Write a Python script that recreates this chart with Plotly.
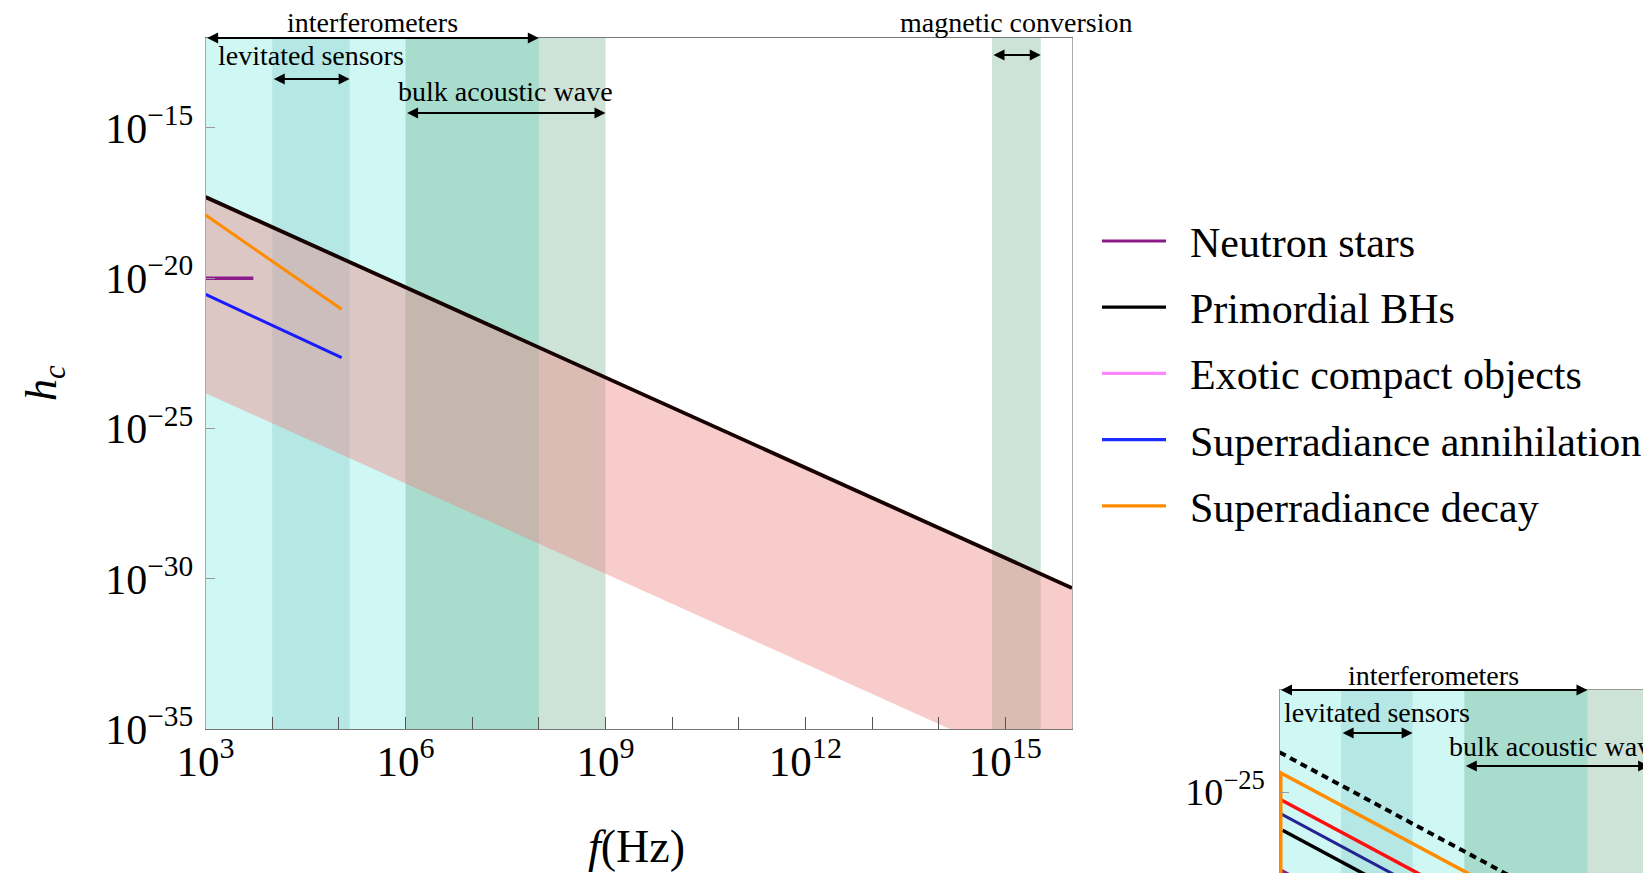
import numpy as np
import plotly.graph_objects as go

# ---------------------------------------------------------------------------
# Detector frequency bands (Hz)
band_names = ["interferometers", "levitated sensors", "bulk acoustic wave", "magnetic conversion"]
band_lo = [1e3, 1e4, 1e6, 6.3e14]
band_hi = [1e8, 1.45e5, 1e9, 3.4e15]
band_fill = ["rgba(64,224,208,0.25)", "rgba(0,128,128,0.125)",
             "rgba(46,139,87,0.24)", "rgba(46,139,87,0.24)"]

# Sources: characteristic strain h_c versus frequency f (Hz)
pbh_f = [1e3, 1e16]
pbh_h_max = [5e-18, 5e-31]
pbh_h_min = [1.5e-24, 1.5e-37]
ns_f = [1e3, 5.2e3]
ns_h = [1e-20, 1e-20]
sr_ann_f = [1e3, 1.1e5]
sr_ann_h = [2.9e-21, 2.3e-23]
sr_dec_f = [1e3, 1.1e5]
sr_dec_h = [1.26e-18, 9.3e-22]

# Lower-right panel curves
p2_dashed_f = [1e3, 1e9]
p2_dashed_h = [1.6e-24, 1.6e-30]
p2_orange_f = [1.05e3, 1.05e3, 1e9]
p2_orange_h = [1e-28, 3.8e-25, 4.0e-31]
p2_red_f = [1.07e3, 1e9]
p2_red_h = [5.75e-26, 6.2e-32]
p2_navy_f = [1e3, 1e9]
p2_navy_h = [2.3e-26, 2.3e-32]
p2_black_f = [1.12e3, 1e9]
p2_black_h = [7.0e-27, 7.8e-33]
p2_purple_f = [1e3, 1e9]
p2_purple_h = [4.5e-28, 4.5e-34]

# Axis ticks
x_tick_exp = list(range(3, 17))
x_tick_text = [f"10<sup>{e}</sup>" if e % 3 == 0 and e < 16 else "" for e in x_tick_exp]
y_tick_exp = [-35, -30, -25, -20, -15]
y_tick_text = [f"10<sup>\u2212{-e}</sup>" for e in y_tick_exp]
p2_y_tick_exp = [-25]
p2_y_tick_text = ["10<sup>\u221225</sup>"]

# Legend entries
legend_names = ["Neutron stars", "Primordial BHs", "Exotic compact objects",
                "Superradiance annihilation", "Superradiance decay"]
legend_colors = ["#8b1a8b", "#000000", "#ff88ff", "#1a2cff", "#ff8c00"]

# ---------------------------------------------------------------------------
W, H = 1643, 873
FONT = "Liberation Serif"


def px(x):
    return x / W


def py(y):
    return 1 - y / H


fig = go.Figure()


def add_band(lo, hi, color, xa="x", ya="y"):
    fig.add_trace(go.Scatter(
        x=[lo, hi, hi, lo, lo], y=[1e-60, 1e-60, 1e-2, 1e-2, 1e-60],
        mode="lines", fill="toself", fillcolor=color, line=dict(width=0),
        hoverinfo="skip", xaxis=xa, yaxis=ya))


# Main panel: detector bands
for lo, hi, c in zip(band_lo, band_hi, band_fill):
    add_band(lo, hi, c)

# Primordial black hole band
fig.add_trace(go.Scatter(x=pbh_f, y=pbh_h_min, mode="lines", line=dict(width=0),
                         hoverinfo="skip"))
fig.add_trace(go.Scatter(x=pbh_f, y=pbh_h_max, mode="lines", fill="tonexty",
                         fillcolor="rgba(240,128,128,0.4)",
                         line=dict(color="#170202", width=3.8), name="Primordial BHs"))

fig.add_trace(go.Scatter(x=sr_dec_f, y=sr_dec_h, mode="lines",
                         line=dict(color="#ff8c00", width=3), name="Superradiance decay"))
fig.add_trace(go.Scatter(x=sr_ann_f, y=sr_ann_h, mode="lines",
                         line=dict(color="#1a1aff", width=3), name="Superradiance annihilation"))
fig.add_trace(go.Scatter(x=ns_f, y=ns_h, mode="lines",
                         line=dict(color="#8b1a8b", width=3.5), name="Neutron stars"))

# Lower-right panel
for lo, hi, c in zip(band_lo[:3], band_hi[:3], band_fill[:3]):
    add_band(lo, hi, c, "x2", "y2")

fig.add_trace(go.Scatter(x=p2_purple_f, y=p2_purple_h, mode="lines",
                         line=dict(color="#8b1a8b", width=3.5), xaxis="x2", yaxis="y2"))
fig.add_trace(go.Scatter(x=p2_black_f, y=p2_black_h, mode="lines",
                         line=dict(color="black", width=3.5), xaxis="x2", yaxis="y2"))
fig.add_trace(go.Scatter(x=p2_navy_f, y=p2_navy_h, mode="lines",
                         line=dict(color="#232394", width=3), xaxis="x2", yaxis="y2"))
fig.add_trace(go.Scatter(x=p2_red_f, y=p2_red_h, mode="lines",
                         line=dict(color="#ff1010", width=3.5), xaxis="x2", yaxis="y2"))
fig.add_trace(go.Scatter(x=p2_orange_f, y=p2_orange_h, mode="lines",
                         line=dict(color="#ff8c00", width=3.5), xaxis="x2", yaxis="y2"))
fig.add_trace(go.Scatter(x=p2_dashed_f, y=p2_dashed_h, mode="lines",
                         line=dict(color="black", width=4, dash="7px,5px"),
                         xaxis="x2", yaxis="y2"))

# ---------------------------------------------------------------------------
annotations = []


def band_arrow(lo, hi, ypix, xref="x"):
    annotations.append(dict(
        x=np.log10(hi), y=py(ypix), xref=xref, yref="paper",
        ax=np.log10(lo), ay=0, axref=xref, ayref="pixel",
        text="", showarrow=True, arrowhead=2, arrowside="end+start",
        arrowsize=1.1, arrowwidth=2, arrowcolor="black"))


def band_label(lo, hi, ypix, text, xref="x"):
    annotations.append(dict(
        x=(np.log10(lo) + np.log10(hi)) / 2, y=py(ypix), xref=xref, yref="paper",
        text=text, showarrow=False, xanchor="center", yanchor="middle",
        font=dict(family=FONT, size=28, color="black")))


main_arrow_y = [38, 79, 113, 55]
main_label_y = [22, 56, 92, 22]
for i in range(4):
    band_arrow(band_lo[i], band_hi[i], main_arrow_y[i])
    band_label(band_lo[i], band_hi[i], main_label_y[i], band_names[i])

p2_arrow_y = [690, 733, 766]
p2_label_y = [675, 712, 746]
for i in range(3):
    band_arrow(band_lo[i], band_hi[i], p2_arrow_y[i], "x2")
    band_label(band_lo[i], band_hi[i], p2_label_y[i], band_names[i], "x2")

# Axis titles
annotations.append(dict(x=px(636), y=py(846), xref="paper", yref="paper",
                        text="<i>f</i>(Hz)", showarrow=False,
                        xanchor="center", yanchor="middle",
                        font=dict(family=FONT, size=46, color="black")))
annotations.append(dict(x=px(44), y=py(383), xref="paper", yref="paper",
                        text="<i>h<sub>c</sub></i>", showarrow=False, textangle=-90,
                        xanchor="center", yanchor="middle",
                        font=dict(family=FONT, size=44, color="black")))

# Legend
shapes = []
leg_y0, leg_dy = 241, 66.2
for i, (name, col) in enumerate(zip(legend_names, legend_colors)):
    yy = leg_y0 + i * leg_dy
    shapes.append(dict(type="line", xref="paper", yref="paper",
                       x0=px(1102), x1=px(1166), y0=py(yy), y1=py(yy),
                       line=dict(color=col, width=3.2)))
    annotations.append(dict(x=px(1188), y=py(yy + 2), xref="paper", yref="paper",
                            text=name, showarrow=False, xanchor="left", yanchor="middle",
                            font=dict(family=FONT, size=42, color="black")))

axis_common = dict(showgrid=False, zeroline=False, showline=True, automargin=False)

fig.update_layout(
    width=W, height=H, autosize=False,
    margin=dict(l=0, r=0, t=0, b=0, autoexpand=False),
    paper_bgcolor="white", plot_bgcolor="white",
    showlegend=False,
    font=dict(family=FONT, color="black"),
    xaxis=dict(type="log", range=[3, 16], domain=[px(205.6), px(1072)], anchor="y",
               tickvals=[10.0 ** e for e in x_tick_exp], ticktext=x_tick_text,
               ticks="inside", ticklen=12, tickwidth=1, tickcolor="#555",
               linecolor="#777", mirror=True, tickfont=dict(size=43, family=FONT),
               ticklabelstandoff=-6, **axis_common),
    yaxis=dict(type="log", range=[-35, -12], domain=[py(729.3), py(37.7)], anchor="x",
               tickvals=[10.0 ** e for e in y_tick_exp], ticktext=y_tick_text,
               ticks="inside", ticklen=9, tickwidth=1, tickcolor="#999",
               linecolor="#aaa", mirror=True, tickfont=dict(size=42, family=FONT),
               ticklabelstandoff=3, **axis_common),
    xaxis2=dict(type="log", range=[3, 3 + (W - 1279.5) / 61.6], domain=[px(1279.5), 1],
                anchor="y2", side="top", showticklabels=False, ticks="",
                linecolor="#999", **axis_common),
    yaxis2=dict(type="log", range=[-27.45, -21.91], domain=[0, py(690)], anchor="x2",
                tickvals=[10.0 ** e for e in p2_y_tick_exp], ticktext=p2_y_tick_text,
                ticks="inside", ticklen=9, tickwidth=1, tickcolor="#999",
                linecolor="#999", tickfont=dict(size=38, family=FONT),
                ticklabelstandoff=6, **axis_common),
    annotations=annotations,
    shapes=shapes,
)

fig.write_html("out.html")
